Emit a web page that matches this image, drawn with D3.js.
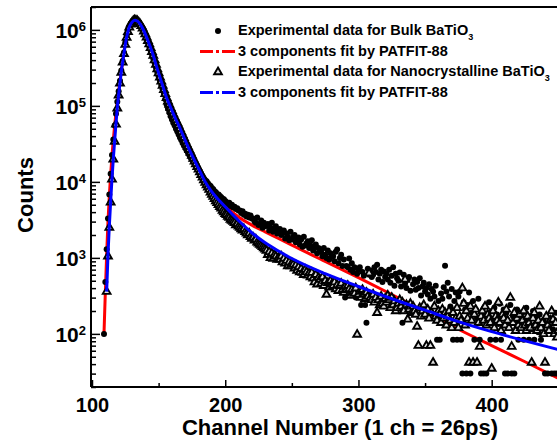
<!DOCTYPE html>
<html lang="en">
<head>
<meta charset="UTF-8">
<title>Positron lifetime spectra - BaTiO3</title>
<script src="https://d3js.org/d3.v7.min.js"></script>
<style>
  body { margin: 0; background: white; }
  svg { display: block; }
  text { font-family: 'Liberation Sans', Arial, sans-serif; font-weight: bold; fill: #000; }
</style>
</head>
<body>
<svg id="chart" width="557" height="447"></svg>
<script>
// bulk BaTiO3 spectrum, one value per channel starting at bulkStart
var bulkStart = 109;
var bulkCounts = [
  100, 480, 1300, 3300, 6800, 12800, 22500, 36000, 55000, 79000,
  113000, 156000, 214000, 292000, 390000, 505000, 680000, 850000, 990000, 1120000,
  1210000, 1270000, 1320000, 1340000, 1330000, 1300000, 1250000, 1180000, 1100000, 1020000,
  930000, 840000, 760000, 680000, 610000, 540000, 480000, 420000, 370000, 320000,
  280000, 245000, 215000, 188000, 165000, 143000, 122000, 104000, 92000, 82000,
  73000, 66000, 60000, 55000, 50000, 46000, 42000, 38500, 35500, 32500,
  30000, 28000, 26000, 24200, 22500, 21000, 19700, 18400, 17200, 16100,
  15000, 14100, 13300, 12500, 11900, 11100, 10500, 10200, 9600, 9100,
  8800, 8300, 8000, 7500, 7300, 6900, 6800, 6500, 6300, 6000,
  5900, 5600,
  5400, 5100, 5300, 4800, 5000, 4600, 4700, 4400, 4500, 4200,
  4200, 3900, 4100, 3700, 3800, 3500, 3700, 3400, 3600, 3300,
  3300, 3000, 2900, 3400, 2700, 2800, 3100, 2500, 2900, 2600,
  2700, 2800, 2300, 2500, 2900, 2200, 2400, 2600, 2100, 2300,
  2400, 2000, 2200, 2300, 1800, 2100, 1900, 1700, 2200, 1750,
  1900, 2000, 1600, 1700, 1850, 1500, 1750, 1400, 1900, 1450,
  1550, 1650, 1350, 1450, 1700, 1250, 1400, 1500, 1150, 1350,
  1300, 1200, 1050, 1350, 1100, 1000, 1250, 950, 1150, 1050,
  1050, 900, 1200, 1290, 850, 1000, 1100, 780, 950, 300,
  780, 750, 980, 700, 850, 650, 750, 300, 620, 700,
  750, 240, 650, 580, 240, 140, 720, 600, 680, 560,
  600, 750, 650, 810, 520, 620, 700, 480, 660, 560,
  620, 520, 700, 470, 580, 750, 430, 620, 540, 500,
  640, 420, 140, 600, 460, 400, 520, 560, 370, 190,
  450, 520, 380, 480, 400, 540, 320, 420, 470, 360,
  400, 330, 450, 290, 390, 360, 310, 430, 84, 270,
  84, 340, 290, 410, 790, 360, 470, 310, 230, 390,
  84, 270, 350, 84, 310, 360, 84, 30, 260, 210,
  30, 240, 350, 30, 190, 270, 84, 210, 160, 290,
  84, 30, 190, 30, 230, 30, 170, 260, 84, 200,
  150, 220, 84, 180, 135, 250, 84, 160, 210, 30,
  190, 30, 135, 240, 30, 170, 30, 150, 210, 84,
  160, 125, 190, 84, 150, 220, 135, 84, 170, 115,
  200, 84, 135, 160, 105, 180, 84, 130, 150, 30,
  170, 30, 125, 160, 30, 115, 30, 190, 30, 30
];

// nanocrystalline BaTiO3 spectrum, one value per channel starting at nanoStart
var nanoStart = 111;
var nanoCounts = [
  360, 1050, 2500, 5400, 10800, 19800, 34000, 57000, 93000, 138000,
  198000, 275000, 375000, 485000, 640000, 790000, 940000, 1080000, 1180000, 1250000,
  1310000, 1340000, 1330000, 1310000, 1260000, 1200000, 1130000, 1050000, 960000, 880000,
  800000, 720000, 650000, 580000, 515000, 460000, 400000, 350000, 305000, 270000,
  238000, 210000, 185000, 163000, 144000, 128000, 115000, 104000, 94000, 86000,
  78000, 71000, 65000, 60000, 55000, 50000, 45500, 41500, 38000, 34500,
  31500, 29000, 26500, 24300, 22200, 20300, 18700, 17200, 15800, 14600,
  13500, 12400, 11500, 10600, 9800, 9100, 8500, 7900, 7300, 6800,
  6400, 6000, 5600, 5300, 5000, 4700, 4500, 4200, 4000, 3800,
  3700, 3500, 3400, 3200, 3100, 3000, 2900, 2700, 2800, 2600,
  2500, 2400, 2300, 2400, 2200, 2100, 2000, 2100, 1900, 1800,
  1850, 1700, 1750, 1600, 1550, 1500, 1450, 1400, 1350, 1300,
  1250, 1100, 1200, 1000, 1150, 980, 1100, 1050, 950, 1000,
  950, 1050, 880, 980, 850, 920, 780, 880, 780, 850,
  820, 730, 800, 680, 760, 650, 720, 640, 600, 700,
  650, 590, 630, 560, 640, 540, 480, 600, 450, 550,
  520, 460, 560, 430, 500, 330, 470, 410, 500, 450,
  430, 480, 390, 440, 370, 430, 460, 380, 350, 420,
  380, 430, 390, 320, 380, 350, 340, 400, 98, 330,
  360, 300, 380, 330, 290, 350, 310, 630, 300, 280,
  330, 260, 300, 190, 280, 240, 310, 250, 230, 290,
  260, 320, 280, 220, 300, 240, 270, 200, 220, 250,
  280, 230, 260, 200, 520, 240, 155, 210, 250, 190,
  230, 200, 180, 125, 70, 220, 170, 200, 240, 180,
  70, 210, 160, 70, 190, 42, 230, 170, 150, 200,
  180, 140, 210, 160, 190, 130, 170, 200, 150, 120,
  190, 140, 160, 220, 120, 170, 150, 400, 250, 130,
  200, 160, 42, 230, 150, 42, 180, 210, 42, 140,
  68, 170, 200, 150, 230, 130, 180, 160, 140, 35,
  200, 120, 170, 150, 260, 140, 110, 180, 160, 130,
  210, 150, 120, 300, 68, 140, 190, 110, 160, 130,
  180, 120, 150, 200, 130, 110, 170, 140, 120, 42,
  160, 190, 130, 110, 150, 230, 120, 140, 100, 42,
  170, 130, 110, 150, 200, 155, 100, 140, 90, 110
];

// PATFIT-88 three-component fits (channel, counts)
var bulkFitCh = [109, 110, 111, 112, 113, 114, 115, 116, 117, 118, 119, 120, 121, 122, 124, 126, 127, 128, 130, 132,
  134, 136, 138, 140, 142, 144, 146, 148, 150, 153, 156, 160, 165, 170, 175, 180, 185, 190, 195, 200,
  210, 220, 230, 240, 250, 275, 300, 325, 350, 375, 400, 425, 450];
var bulkFitCounts = [100, 350, 1100, 3000, 6500, 12500, 22000, 36000, 55000, 80000, 112000, 155000, 215000, 290000, 500000, 850000, 1000000, 1120000, 1270000, 1340000,
  1300000, 1180000, 1020000, 840000, 680000, 540000, 420000, 320000, 245000, 165000, 103000, 66000, 42000, 28000, 19800, 14200, 10400, 7900, 6100, 4850,
  3450, 2700, 2200, 1800, 1470, 900, 550, 330, 195, 115, 70, 43, 26];

var nanoFitCh = [111, 112, 113, 114, 115, 116, 117, 118, 119, 120, 121, 122, 124, 126, 127, 128, 130, 132, 134, 136,
  138, 140, 142, 144, 146, 148, 150, 153, 156, 158, 160, 163, 165, 170, 175, 180, 185, 190, 200, 210,
  220, 230, 240, 250, 275, 300, 325, 350, 375, 400, 425, 450];
var nanoFitCounts = [360, 1100, 2600, 5500, 11000, 20000, 35000, 58000, 95000, 140000, 200000, 280000, 490000, 800000, 950000, 1090000, 1260000, 1340000, 1310000, 1200000,
  1050000, 880000, 720000, 580000, 460000, 350000, 270000, 185000, 128000, 105000, 87000, 66000, 56000, 35000, 22500, 15000, 10000, 7400, 4700, 3100,
  2140, 1580, 1230, 980, 620, 420, 290, 205, 145, 107, 81, 62];

var xTicks = [100, 200, 300, 400];
var xMinorTicks = [150, 250, 350, 450];
var yTicks = [1e2, 1e3, 1e4, 1e5, 1e6];
var yTickExp = ["2", "3", "4", "5", "6"];

var legendItems = [
  {kind: "circle", text: "Experimental data for Bulk BaTiO", sub: "3"},
  {kind: "red", text: "3 components fit by PATFIT-88", sub: ""},
  {kind: "triangle", text: "Experimental data for Nanocrystalline BaTiO", sub: "3"},
  {kind: "blue", text: "3 components fit by PATFIT-88", sub: ""}
];

var svg = d3.select("#chart");
var plotLeft = 91, plotTop = 7, plotBottom = 387, plotRight = 557;

var x = d3.scaleLinear().domain([100, 450]).range([92, 558.3]);
var y = d3.scaleLog().domain([20, 2e6]).range([plotBottom, plotTop]);

var bulk = bulkCounts.map((c, i) => ({ch: bulkStart + i, c: c}));
var nano = nanoCounts.map((c, i) => ({ch: nanoStart + i, c: c}));
var bulkFit = bulkFitCh.map((ch, i) => ({ch: ch, c: bulkFitCounts[i]}));
var nanoFit = nanoFitCh.map((ch, i) => ({ch: ch, c: nanoFitCounts[i]}));

var line = d3.line()
  .x(d => x(d.ch))
  .y(d => y(d.c))
  .curve(d3.curveMonotoneX);

var triangle = d3.symbol().type(d3.symbolTriangle).size(26);

// red fit under the data
svg.append("path")
  .datum(bulkFit)
  .attr("d", line)
  .attr("fill", "none")
  .attr("stroke", "#ff0000")
  .attr("stroke-width", 3);

svg.append("g").selectAll("circle")
  .data(bulk)
  .join("circle")
  .attr("cx", d => x(d.ch))
  .attr("cy", d => y(d.c))
  .attr("r", 3)
  .attr("fill", "#000");

svg.append("g").selectAll("path")
  .data(nano)
  .join("path")
  .attr("d", triangle)
  .attr("transform", d => `translate(${x(d.ch)},${y(d.c)})`)
  .attr("fill", "#ddd")
  .attr("stroke", "#000")
  .attr("stroke-width", 1.9);

svg.append("path")
  .datum(nanoFit)
  .attr("d", line)
  .attr("fill", "none")
  .attr("stroke", "#0000ff")
  .attr("stroke-width", 3);

// axes
var yMinor = y.ticks().filter(v => yTicks.indexOf(v) < 0);

var yAxis = svg.append("g")
  .attr("transform", `translate(${plotLeft},0)`)
  .call(d3.axisLeft(y).tickValues(yTicks).tickSize(-9).tickSizeOuter(0).tickPadding(5).tickFormat(() => "10"));
yAxis.selectAll(".tick text")
  .attr("font-size", 21)
  .attr("dy", "0.36em")
  .append("tspan")
  .attr("dy", "-0.55em")
  .attr("font-size", 13)
  .text((d, i) => yTickExp[i]);

svg.append("g")
  .attr("transform", `translate(${plotLeft},0)`)
  .call(d3.axisLeft(y).tickValues(yMinor).tickSize(-5).tickSizeOuter(0).tickFormat(""))
  .call(g => g.select(".domain").remove());

var xAxis = svg.append("g")
  .attr("transform", `translate(0,${plotBottom})`)
  .call(d3.axisBottom(x).tickValues(xTicks).tickSize(-7).tickSizeOuter(0).tickPadding(11));
xAxis.selectAll(".tick text").attr("font-size", 20);

svg.append("g")
  .attr("transform", `translate(0,${plotBottom})`)
  .call(d3.axisBottom(x).tickValues(xMinorTicks).tickSize(-4).tickSizeOuter(0).tickFormat(""))
  .call(g => g.select(".domain").remove());

svg.selectAll(".domain").remove();
svg.selectAll(".tick line").attr("stroke-width", 1.5);

// frame: left and bottom lines + top border
svg.append("line").attr("x1", plotLeft).attr("x2", plotLeft).attr("y1", plotTop).attr("y2", plotBottom)
  .attr("stroke", "#000").attr("stroke-width", 2);
svg.append("line").attr("x1", plotLeft).attr("x2", plotRight).attr("y1", plotBottom).attr("y2", plotBottom)
  .attr("stroke", "#000").attr("stroke-width", 2);
svg.append("line").attr("x1", plotLeft).attr("x2", plotRight).attr("y1", plotTop).attr("y2", plotTop)
  .attr("stroke", "#000").attr("stroke-width", 2);

// axis titles
svg.append("text")
  .attr("x", 340).attr("y", 435)
  .attr("text-anchor", "middle")
  .attr("font-size", 22)
  .text("Channel Number (1 ch = 26ps)");

svg.append("text")
  .attr("transform", "translate(33,195) rotate(-90)")
  .attr("text-anchor", "middle")
  .attr("font-size", 22)
  .text("Counts");

// legend
var legend = svg.append("g");
legendItems.forEach(function(item, i) {
  var base = 35 + i * 20.5;
  var cy = base - 4;
  if (item.kind === "circle") {
    legend.append("circle").attr("cx", 218).attr("cy", cy).attr("r", 3).attr("fill", "#000");
  } else if (item.kind === "triangle") {
    legend.append("path").attr("d", triangle)
      .attr("transform", `translate(218,${cy})`)
      .attr("fill", "#ddd").attr("stroke", "#000").attr("stroke-width", 1.9);
  } else {
    legend.append("line")
      .attr("x1", 200).attr("x2", 235).attr("y1", cy).attr("y2", cy)
      .attr("stroke", item.kind === "red" ? "#ff0000" : "#0000ff")
      .attr("stroke-width", 3)
      .attr("stroke-dasharray", "13,3,3,3");
  }
  var t = legend.append("text").attr("x", 238).attr("y", base).attr("font-size", 14.5).text(item.text);
  if (item.sub) t.append("tspan").attr("dy", 5).attr("font-size", 9).text(item.sub);
});
</script>
</body>
</html>
